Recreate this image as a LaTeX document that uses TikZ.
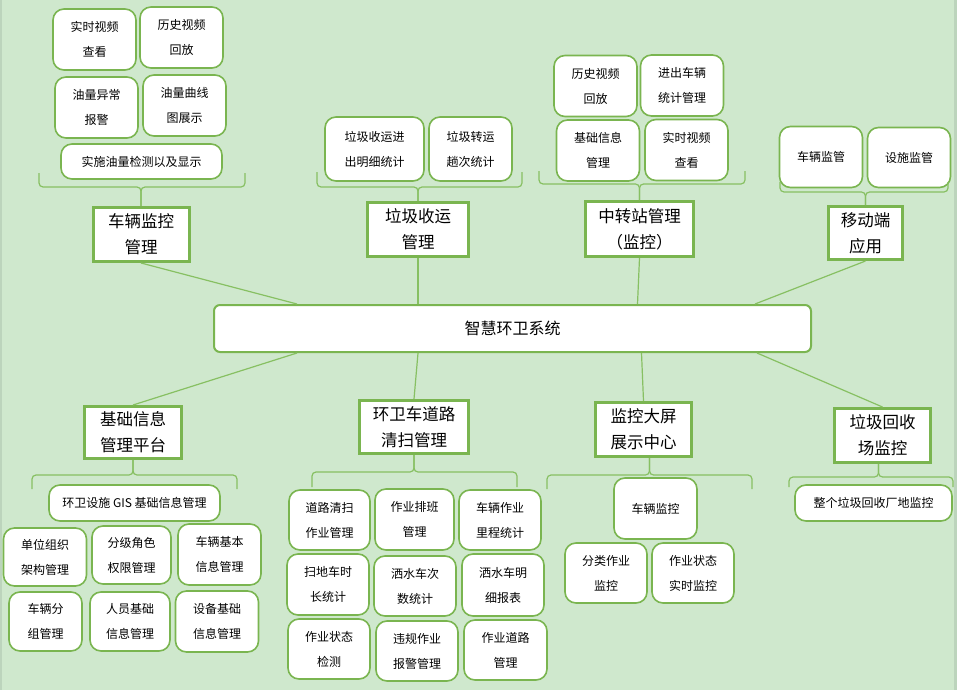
\documentclass[tikz,border=0pt]{standalone}
\usepackage{fontspec}
\setmainfont{Noto Sans CJK SC}
\definecolor{bggreen}{RGB}{207,232,205}
\definecolor{rimgreen}{RGB}{188,212,188}
\definecolor{edgegreen}{RGB}{122,181,80}
\definecolor{linegreen}{RGB}{135,192,98}
\tikzset{
  leafbox/.style={draw=edgegreen,line width=1.6pt,fill=white,rounded corners=11pt,
    minimum width=83pt,minimum height=61pt,inner sep=0pt,align=center,
    font=\fontsize{12pt}{25pt}\selectfont},
  parentbox/.style={draw=edgegreen,line width=3pt,fill=white,
    minimum width=96pt,minimum height=54pt,inner sep=0pt,align=center,
    font=\fontsize{16.5pt}{26pt}\selectfont},
  hubbox/.style={draw=edgegreen,line width=2pt,fill=white,rounded corners=6pt,
    minimum width=597pt,minimum height=47pt,inner sep=0pt,
    font=\fontsize{16pt}{20pt}\selectfont},
  link/.style={draw=linegreen,line width=1.2pt},
  brace/.style={draw=linegreen,line width=1.2pt,rounded corners=4pt},
}
\begin{document}
\begin{tikzpicture}[x=1pt,y=-1pt]
% background
\useasboundingbox (0,0) rectangle (957,690);
\fill[bggreen] (0,0) rectangle (957,690);
\fill[rimgreen] (0,0) rectangle (2,690); % left rim
\fill[rimgreen] (954,0) rectangle (957,690); % right rim
% hub
\node[hubbox] (hub) at (512.5,328.5) {智慧环卫系统};
% A: vehicle monitoring
\node[parentbox] (car) at (141,234.5) {车辆监控\\管理};
\node[leafbox] (car1) at (94.5,39.5) {实时视频\\查看};
\node[leafbox] (car2) at (181.5,37.5) {历史视频\\回放};
\node[leafbox] (car3) at (96.5,107.5) {油量异常\\报警};
\node[leafbox] (car4) at (184.5,105.5) {油量曲线\\图展示};
\node[leafbox,minimum width=161pt,minimum height=35pt] (car5) at (141.5,161.5) {实施油量检测以及显示};
\draw[brace] (39,173) -- (39,187) -- (car.north |- 0,187) -- (car.north);
\draw[brace] (245,173) -- (245,187) -- (car.north |- 0,187) -- (car.north);
% B: waste collection
\node[parentbox,minimum width=101pt] (waste) at (418,229.5) {垃圾收运\\管理};
\node[leafbox,minimum width=99pt,minimum height=64pt] (waste1) at (374.5,149) {垃圾收运进\\出明细统计};
\node[leafbox,minimum height=64pt] (waste2) at (470.5,149) {垃圾转运\\趟次统计};
\draw[brace] (317,172) -- (317,187) -- (waste.north |- 0,187) -- (waste.north);
\draw[brace] (522,172) -- (522,187) -- (waste.north |- 0,187) -- (waste.north);
% C: transfer station
\node[parentbox,minimum width=108pt,minimum height=55pt] (station) at (639.5,229) {中转站管理\\（监控）};
\node[leafbox] (station1) at (595.5,86) {历史视频\\回放};
\node[leafbox] (station2) at (682,85.5) {进出车辆\\统计管理};
\node[leafbox] (station3) at (598,150.5) {基础信息\\管理};
\node[leafbox] (station4) at (686.5,150) {实时视频\\查看};
\draw[brace] (539,171) -- (539,184) -- (station.north |- 0,184) -- (station.north);
\draw[brace] (745,171) -- (745,184) -- (station.north |- 0,184) -- (station.north);
% D: mobile
\node[parentbox,minimum width=74pt,minimum height=53pt] (mobile) at (865.5,233) {移动端\\应用};
\node[leafbox] (mobile1) at (821,157) {车辆监管};
\node[leafbox,minimum height=60pt] (mobile2) at (909,157.5) {设施监管};
\draw[brace] (780,182) -- (780,192) -- (mobile.north |- 0,192) -- (mobile.north);
\draw[brace] (948,182) -- (948,192) -- (mobile.north |- 0,192) -- (mobile.north);
% E: basic information
\node[parentbox,minimum width=97pt,minimum height=52pt] (base) at (133,432.5) {基础信息\\管理平台};
\node[leafbox,minimum width=171pt,minimum height=36pt] (base0) at (134.5,503) {环卫设施 GIS 基础信息管理};
\node[leafbox,minimum height=58pt] (base1) at (45,557) {单位组织\\架构管理};
\node[leafbox,minimum width=79pt,minimum height=58pt] (base2) at (131.5,555) {分级角色\\权限管理};
\node[leafbox] (base3) at (219.5,554.5) {车辆基本\\信息管理};
\node[leafbox,minimum width=73pt,minimum height=59pt] (base4) at (45.5,621.5) {车辆分\\组管理};
\node[leafbox,minimum width=80pt,minimum height=59pt] (base5) at (130,621.5) {人员基础\\信息管理};
\node[leafbox] (base6) at (217,621.5) {设备基础\\信息管理};
\draw[brace] (base.south) -- (base.south |- 0,475) -- (32,475) -- (32,489);
\draw[brace] (base.south) -- (base.south |- 0,475) -- (237,475) -- (237,489);
% F: road cleaning
\node[parentbox,minimum width=109pt,minimum height=53pt] (road) at (414,427) {环卫车道路\\清扫管理};
\node[leafbox,minimum width=81pt,minimum height=60pt] (road1) at (329.5,520) {道路清扫\\作业管理};
\node[leafbox,minimum width=79pt] (road2) at (414.5,519.5) {作业排班\\管理};
\node[leafbox,minimum width=82pt,minimum height=60pt] (road3) at (500,520) {车辆作业\\里程统计};
\node[leafbox,minimum width=82pt] (road4) at (328,584.5) {扫地车时\\长统计};
\node[leafbox,minimum width=82pt,minimum height=60pt] (road5) at (415,586) {洒水车次\\数统计};
\node[leafbox,minimum width=82pt,minimum height=62pt] (road6) at (503,585) {洒水车明\\细报表};
\node[leafbox,minimum width=82pt,minimum height=60pt] (road7) at (329,649) {作业状态\\检测};
\node[leafbox,minimum width=82pt,minimum height=60pt] (road8) at (417,651) {违规作业\\报警管理};
\node[leafbox,minimum height=60pt] (road9) at (505.5,650) {作业道路\\管理};
\draw[brace] (road.south) -- (road.south |- 0,472) -- (312,472) -- (312,487);
\draw[brace] (road.south) -- (road.south |- 0,472) -- (517,472) -- (517,487);
% G: big screen
\node[parentbox] (screen) at (643.5,429.5) {监控大屏\\展示中心};
\node[leafbox] (screen1) at (655.5,508.5) {车辆监控};
\node[leafbox,minimum width=82pt,minimum height=60pt] (screen2) at (606,573) {分类作业\\监控};
\node[leafbox,minimum width=82pt,minimum height=60pt] (screen3) at (693,573) {作业状态\\实时监控};
\draw[brace] ([xshift=6pt]screen.south) -- ([xshift=6pt]screen.south |- 0,475) -- (547,475) -- (547,489);
\draw[brace] ([xshift=6pt]screen.south) -- ([xshift=6pt]screen.south |- 0,475) -- (752,475) -- (752,489);
% H: recycling yard
\node[parentbox] (recycle) at (882.5,435.5) {垃圾回收\\场监控};
\node[leafbox,minimum width=157pt,minimum height=36pt] (recycle1) at (873.5,503) {整个垃圾回收厂地监控};
\draw[brace] ([xshift=-4pt]recycle.south) -- ([xshift=-4pt]recycle.south |- 0,477) -- (789,477) -- (789,487);
\draw[brace] ([xshift=-4pt]recycle.south) -- ([xshift=-4pt]recycle.south |- 0,477) -- (953,477) -- (953,487);
% links to hub
\draw[link] (car.south) -- ([xshift=84pt]hub.north west);
\draw[link] (waste.south) -- (waste.south |- hub.north);
\draw[link] (station.south) -- ([xshift=-2pt]station.south |- hub.north);
\draw[link] (mobile.south) -- ([xshift=-57pt]hub.north east);
\draw[link] ([xshift=84pt]hub.south west) -- (base.north);
\draw[link] ([xshift=4pt]road.north |- hub.south) -- (road.north);
\draw[link] ([xshift=-2pt]screen.north |- hub.south) -- (screen.north);
\draw[link] ([xshift=-55pt]hub.south east) -- (recycle.north);
\end{tikzpicture}
\end{document}
